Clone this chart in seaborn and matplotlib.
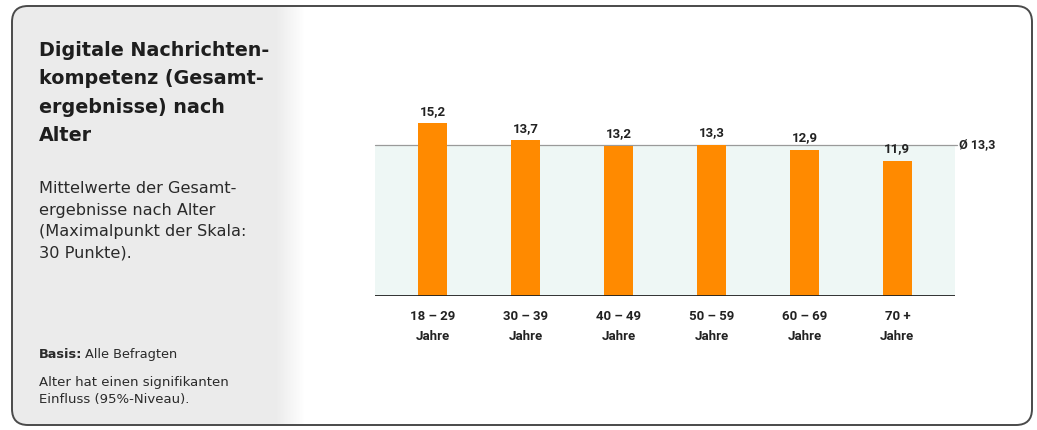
import numpy as np
import pandas as pd
import matplotlib
matplotlib.use("Agg")
import matplotlib.pyplot as plt
from matplotlib.patches import FancyBboxPatch
import seaborn as sns

# Mean overall scores by age group
age_groups = ["18 – 29\nJahre", "30 – 39\nJahre", "40 – 49\nJahre",
              "50 – 59\nJahre", "60 – 69\nJahre", "70 +\nJahre"]
scores = [15.2, 13.7, 13.2, 13.3, 12.9, 11.9]
overall_mean = 13.3

title_lines = "Digitale Nachrichten-\nkompetenz (Gesamt-\nergebnisse) nach\nAlter"
subtitle_lines = ("Mittelwerte der Gesamt-\nergebnisse nach Alter\n"
                  "(Maximalpunkt der Skala:\n30 Punkte).")
basis_label = "Basis:"
basis_text = "Alle Befragten"
note_text = "Alter hat einen signifikanten\nEinfluss (95%-Niveau)."

sns.set_theme(style="white")
plt.rcParams["font.family"] = ["Roboto", "DejaVu Sans"]
side_font = ["DejaVu Sans"]

W, H = 1037, 430
fig = plt.figure(figsize=(W / 100, H / 100), dpi=100)
fig.patch.set_facecolor("white")

# Background layer: grey side panel fading into white, inside a rounded frame
bg = fig.add_axes([0, 0, 1, 1], zorder=0)
bg.set_xlim(0, W)
bg.set_ylim(H, 0)
bg.axis("off")
xs = np.arange(W)
shade = np.clip((xs - 276) / 28.0, 0, 1)
row = 0.925 + (1.0 - 0.925) * shade
img = np.repeat(row[None, :, None], H, axis=0).repeat(3, axis=2)
im = bg.imshow(img, extent=(0, W, H, 0), aspect="auto", interpolation="bilinear")
frame = FancyBboxPatch((12, 6), 1020, 419, boxstyle="round,pad=0,rounding_size=16",
                       facecolor="none", edgecolor="#4a4a4a", linewidth=1.4)
bg.add_patch(frame)
im.set_clip_path(frame)

# Left panel text
bg.text(39, 41, title_lines, fontsize=13.8, fontweight="bold", color="#1e1e1e",
        va="top", ha="left", linespacing=1.62, family=side_font)
bg.text(39, 181, subtitle_lines, fontsize=11.6, color="#2a2a2a",
        va="top", ha="left", linespacing=1.55, family=side_font)
t = bg.text(39, 348, basis_label, fontsize=9.3, fontweight="bold", color="#2a2a2a",
            va="top", ha="left", family=side_font)
bg.annotate(basis_text, xy=(1, 0), xycoords=t, xytext=(2, 0),
            textcoords="offset points", fontsize=9.3, color="#2a2a2a",
            va="bottom", ha="left", family=side_font)
bg.text(39, 376, note_text, fontsize=9.5, color="#2a2a2a",
        va="top", ha="left", linespacing=1.35, family=side_font)

# Chart axes
x0, x1 = 375, 955
y_base, y_top = 296, 100
ax = fig.add_axes([x0 / W, (H - y_base) / H, (x1 - x0) / W, (y_base - y_top) / H], zorder=1)
ax.patch.set_alpha(0)

df = pd.DataFrame({"Alter": age_groups, "Wert": scores})
sns.barplot(data=df, x="Alter", y="Wert", ax=ax, color="#ff8a00",
            saturation=1, width=0.31, linewidth=0, zorder=3)

ax.set_xlim(-0.62, 5.62)
ymax = overall_mean * (y_base - y_top) / 151.0
ax.set_ylim(0, ymax)

# Light band below the average line
ax.axhspan(0, overall_mean, color="#eef7f5", zorder=0, lw=0)
ax.plot([-0.62, 5.64], [overall_mean, overall_mean], color="#9a9a9a", lw=0.9,
        zorder=2, clip_on=False)
ax.annotate("Ø 13,3", xy=(5.62, overall_mean), xycoords="data", xytext=(3, 0),
            textcoords="offset points", fontsize=9, fontweight="bold",
            color="#222222", va="center", ha="left", annotation_clip=False)

for i, v in enumerate(scores):
    ax.annotate(f"{v:.1f}".replace(".", ","), xy=(i, v), xytext=(0, 4),
                textcoords="offset points", ha="center", va="bottom",
                fontsize=9.5, fontweight="bold", color="#222222", zorder=4)

ax.axhline(0, color="#222222", lw=1.3, zorder=4)
sns.despine(ax=ax, left=True, bottom=True, top=True, right=True)
ax.set_yticks([])
ax.set_xlabel("")
ax.set_ylabel("")
ax.tick_params(axis="x", length=0, pad=10)
for lab in ax.get_xticklabels():
    lab.set_fontweight("bold")
    lab.set_fontsize(9.5)
    lab.set_color("#222222")
    lab.set_linespacing(1.7)

fig.savefig("out.png", dpi=100)
